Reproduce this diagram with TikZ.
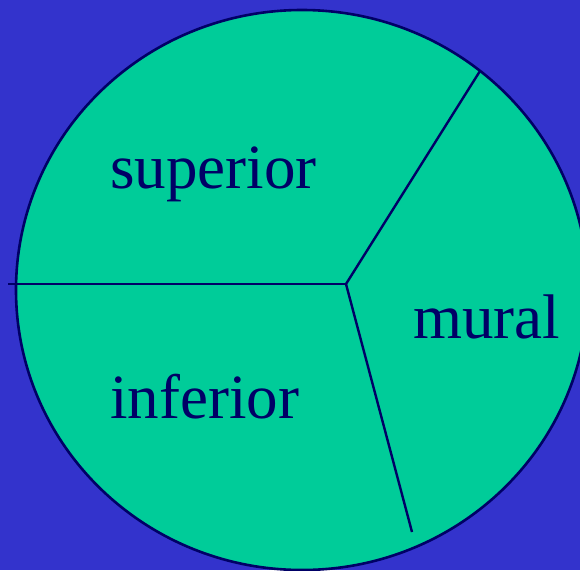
\documentclass[tikz,border=0pt]{standalone}
\usepackage{fontspec}
\setmainfont{Liberation Serif}
\usetikzlibrary{positioning}
\definecolor{royal}{RGB}{51,51,204}
\definecolor{mint}{RGB}{0,204,153}
\definecolor{navy}{RGB}{0,0,102}
\tikzset{
  rim/.style={draw=navy,line width=2.6pt,fill=mint},
  split/.style={draw=navy,line width=2.4pt},
  region/.style={text=navy,anchor=base west,inner sep=0pt,
    font=\fontsize{63}{70}\selectfont},
}
\begin{document}
\begin{tikzpicture}[x=1pt,y=-1pt]
    \useasboundingbox (0,0) rectangle (580,570);
    \fill[royal] (0,0) rectangle (580,570);
    \clip (0,0) rectangle (580,570);
    \draw[rim] (302,290) ellipse [x radius=286,y radius=280];
    % meeting point and free ends of the three cuts
    \coordinate (hub) at (346,284);
    \coordinate (west) at (8,284);
    \coordinate (ne) at (480,71);
    \coordinate (south) at (412,532);
    \draw[split] (hub) -- (west);
    \draw[split] (hub) -- (ne);
    \draw[split] (hub) -- (south);
    \node[region] (sup) at (110,188) {superior};
    \node[region] (inf) at (110,418) {inferior};
    \node[region] (mur) at (413,338) {mural};
  \end{tikzpicture}
\end{document}
